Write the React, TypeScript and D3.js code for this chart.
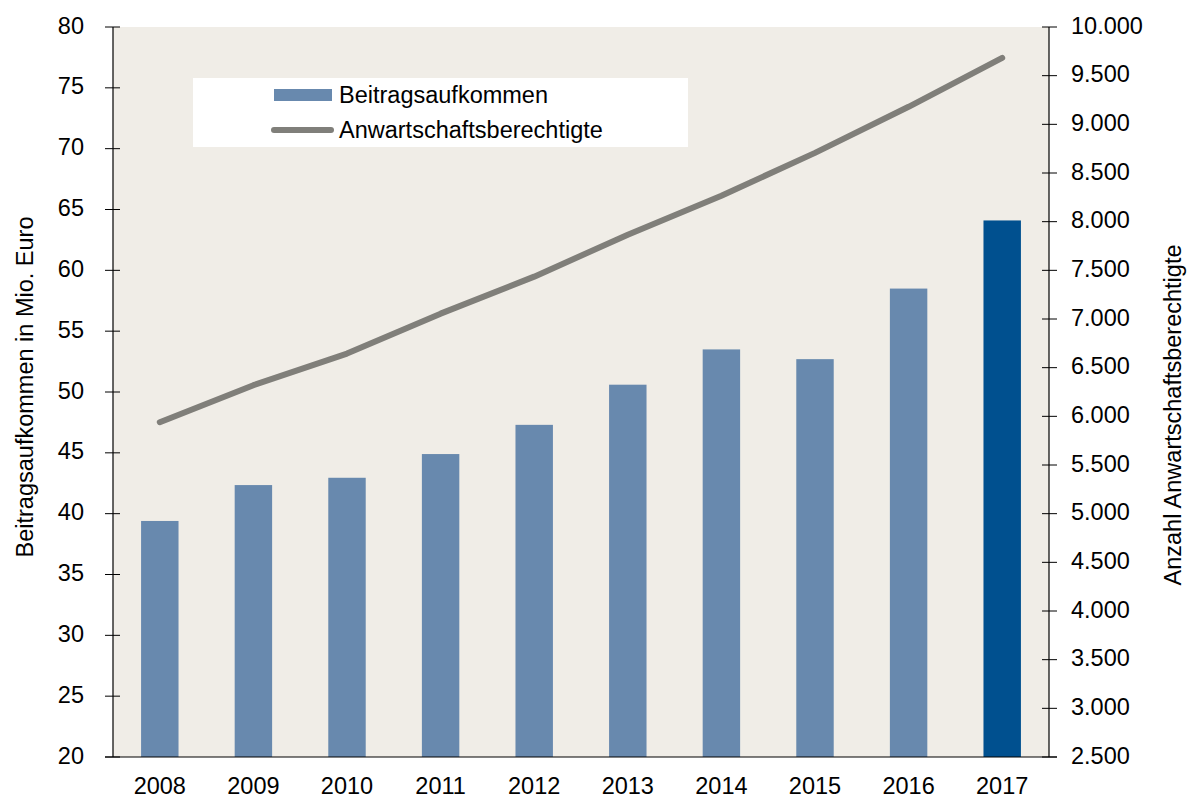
import React from "react";
import * as d3 from "d3";

const years = ["2008","2009","2010","2011","2012","2013","2014","2015","2016","2017"];
const beitrag = [39.4, 42.35, 42.95, 44.9, 47.3, 50.6, 53.5, 52.7, 58.5, 64.1];
const anwart = [5940, 6320, 6645, 7055, 7435, 7866, 8266, 8707, 9180, 9682];
const leftTicks = [20,25,30,35,40,45,50,55,60,65,70,75,80];
const rightTicks = [2500,3000,3500,4000,4500,5000,5500,6000,6500,7000,7500,8000,8500,9000,9500,10000];

const W = 1188, H = 798;
const L = 113, R = 1049, T = 27, B = 757;
const FONT = "Liberation Sans, Arial, sans-serif";
const FS = 23.5;

export default function App() {
  const x = d3.scaleBand().domain(years).range([L, R]).paddingInner(0.6).paddingOuter(0.3);
  const yL = d3.scaleLinear().domain([20, 80]).range([B, T]);
  const yR = d3.scaleLinear().domain([2500, 10000]).range([B, T]);
  const line = d3.line<number>()
    .x((_, i) => (x(years[i]) as number) + x.bandwidth() / 2)
    .y((d) => yR(d));
  const fmt = (v: number) => d3.format(",")(v).replace(/,/g, ".");

  return (
    <svg width={W} height={H} style={{ position: "absolute", left: 0, top: 0, fontFamily: FONT }}>
      <rect x={0} y={0} width={W} height={H} fill="#fff" />
      <rect x={L} y={T} width={R - L} height={B - T} fill="#F0EDE7" />
      {years.map((yr, i) => (
        <rect key={yr} x={x(yr)} y={yL(beitrag[i])} width={x.bandwidth()} height={B - yL(beitrag[i])}
          fill={i === years.length - 1 ? "#00508F" : "#6889AE"} />
      ))}
      <path d={line(anwart) || ""} fill="none" stroke="#807F7A" strokeWidth={6} strokeLinecap="round" strokeLinejoin="round" />
      {/* axes */}
      <line x1={L} x2={L} y1={T} y2={B} stroke="#000" strokeWidth={1.2} />
      <line x1={R} x2={R} y1={T} y2={B} stroke="#000" strokeWidth={1.2} />
      <line x1={L - 8} x2={R + 8} y1={B} y2={B} stroke="#000" strokeWidth={1.2} />
      {leftTicks.map((t) => (
        <g key={"l" + t}>
          <line x1={L - 8} x2={L + 7} y1={yL(t)} y2={yL(t)} stroke="#000" strokeWidth={1} />
          <text x={84} y={yL(t)} dy="0.28em" textAnchor="end" fontSize={FS} fill="#000">{t}</text>
        </g>
      ))}
      {rightTicks.map((t) => (
        <g key={"r" + t}>
          <line x1={R - 7} x2={R + 8} y1={yR(t)} y2={yR(t)} stroke="#000" strokeWidth={1} />
          <text x={1071} y={yR(t)} dy="0.28em" textAnchor="start" fontSize={FS} fill="#000">{fmt(t)}</text>
        </g>
      ))}
      {years.map((yr) => (
        <text key={"x" + yr} x={(x(yr) as number) + x.bandwidth() / 2} y={794} textAnchor="middle" fontSize={FS} fill="#000">{yr}</text>
      ))}
      <text transform={`translate(33,387) rotate(-90)`} textAnchor="middle" fontSize={FS} fill="#000">Beitragsaufkommen in Mio. Euro</text>
      <text transform={`translate(1181,415) rotate(-90)`} textAnchor="middle" fontSize={FS} fill="#000">Anzahl Anwartschaftsberechtigte</text>
      {/* legend */}
      <rect x={193} y={78} width={495} height={69} fill="#fff" />
      <rect x={274} y={89} width={58} height={12} fill="#6889AE" />
      <line x1={274} x2={331} y1={130} y2={130} stroke="#807F7A" strokeWidth={6} strokeLinecap="round" />
      <text x={339} y={103} fontSize={FS} fill="#000">Beitragsaufkommen</text>
      <text x={339} y={138} fontSize={FS} fill="#000">Anwartschaftsberechtigte</text>
    </svg>
  );
}
